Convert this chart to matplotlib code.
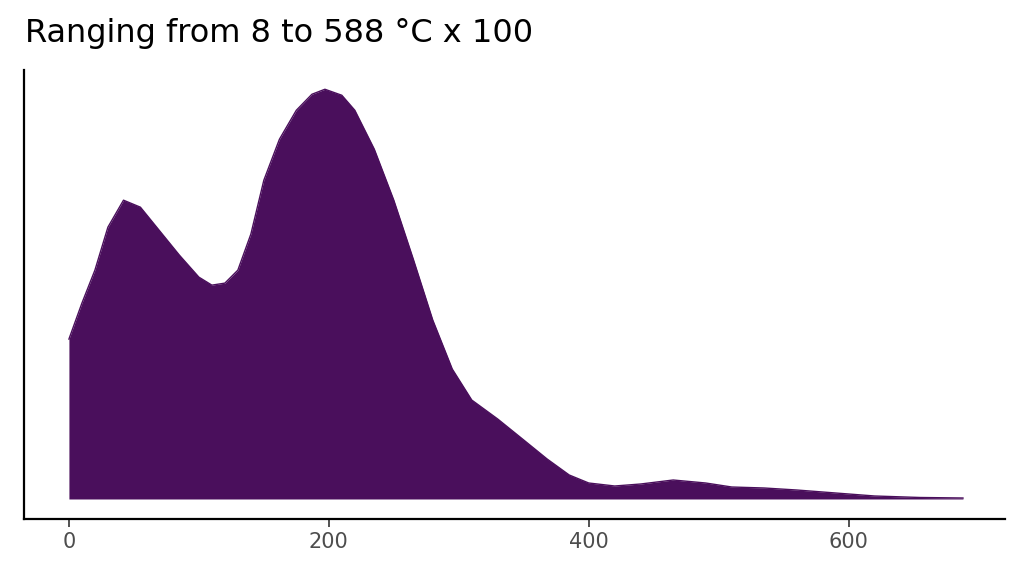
import matplotlib.pyplot as plt

# density curve (arbitrary height units)
x_vals = [0, 10, 20, 30, 42, 55, 70, 85, 100, 110, 120, 130, 140, 150, 162, 175, 187, 197,
          210, 220, 235, 250, 265, 280, 295, 310, 330, 350, 368, 385, 400, 420, 440, 465,
          490, 510, 535, 560, 590, 620, 655, 688]
density = [160, 196, 229, 272, 299, 292, 268, 244, 222, 214, 216, 229, 265, 319, 360, 389, 405, 410,
           404, 389, 350, 299, 240, 179, 130, 99, 80, 59, 40, 24, 16, 13, 15, 19,
           16, 12, 11, 9, 6, 3, 1.5, 1]

fig, ax = plt.subplots(figsize=(10.24, 5.76), dpi=100)
fig.subplots_adjust(left=0.0234, right=0.981, bottom=0.099, top=0.878)
ax.fill_between(x_vals, 0, density, color='#4a0f5c', lw=0)
ax.plot(x_vals, density, color='#4a0f5c', lw=1)
ax.set_xlim(-34.6, 720)
ax.set_ylim(-20, 429)
ax.set_xticks([0, 200, 400, 600])
ax.set_yticks([])
for s in ['top', 'right']:
    ax.spines[s].set_visible(False)
for s in ['left', 'bottom']:
    ax.spines[s].set_linewidth(1.6)
ax.tick_params(axis='x', labelsize=15, labelcolor='#4d4d4d', length=6, width=1.2, colors='#333333')
fig.text(0.024, 0.915, 'Ranging from 8 to 588 °C x 100', fontsize=23, ha='left', va='bottom')
fig.savefig('out.png')
